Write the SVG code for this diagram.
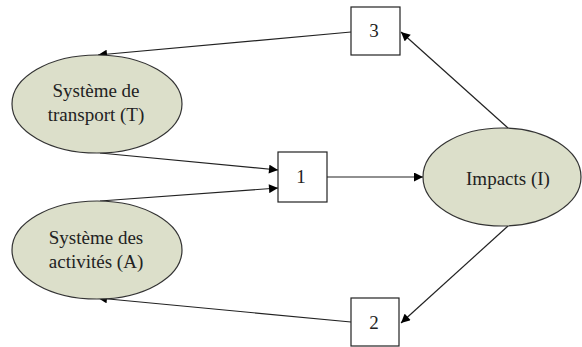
<svg xmlns="http://www.w3.org/2000/svg" width="582" height="347" viewBox="0 0 582 347">
<defs>
<marker id="ah" viewBox="0 0 10 10" refX="10" refY="5" markerWidth="10" markerHeight="9" markerUnits="userSpaceOnUse" orient="auto">
<path d="M0,0 L10,5 L0,10 z" fill="#000"/>
</marker>
<style>
.ell{fill:#dcdfca;stroke:#333;stroke-width:1.2}
.box{fill:#fff;stroke:#222;stroke-width:1.2}
.lbl{font-family:"Liberation Serif","Times New Roman",serif;font-size:19px;fill:#222;text-anchor:middle}
.con{fill:none;stroke:#222;stroke-width:1.2;marker-end:url(#ah)}
</style>
</defs>
<rect width="582" height="347" fill="#fff"/>
<g id="connectors">
<line class="con" x1="351" y1="32" x2="98" y2="55"/>
<line class="con" x1="100" y1="153" x2="278" y2="170"/>
<line class="con" x1="100" y1="201" x2="278" y2="188"/>
<line class="con" x1="327" y1="177" x2="423" y2="177"/>
<line class="con" x1="508" y1="128" x2="401" y2="32"/>
<line class="con" x1="508" y1="226" x2="401" y2="323"/>
<line class="con" x1="351" y1="322" x2="98" y2="298"/>
</g>
<g id="node-T">
<ellipse class="ell" cx="97" cy="104" rx="85" ry="49"/>
<text class="lbl" x="96" y="97">Système de</text>
<text class="lbl" x="96" y="121">transport (T)</text>
</g>
<g id="node-A">
<ellipse class="ell" cx="97" cy="250" rx="85" ry="49"/>
<text class="lbl" x="96" y="244">Système des</text>
<text class="lbl" x="96" y="268">activités (A)</text>
</g>
<g id="node-I">
<ellipse class="ell" cx="502" cy="177" rx="79" ry="49"/>
<text class="lbl" x="508" y="185">Impacts (I)</text>
</g>
<g id="node-1">
<rect class="box" x="278" y="152" width="49" height="50"/>
<text class="lbl" x="301" y="183">1</text>
</g>
<g id="node-3">
<rect class="box" x="351" y="7" width="49" height="48"/>
<text class="lbl" x="374" y="37">3</text>
</g>
<g id="node-2">
<rect class="box" x="351" y="298" width="48" height="48"/>
<text class="lbl" x="374" y="329">2</text>
</g>
</svg>
